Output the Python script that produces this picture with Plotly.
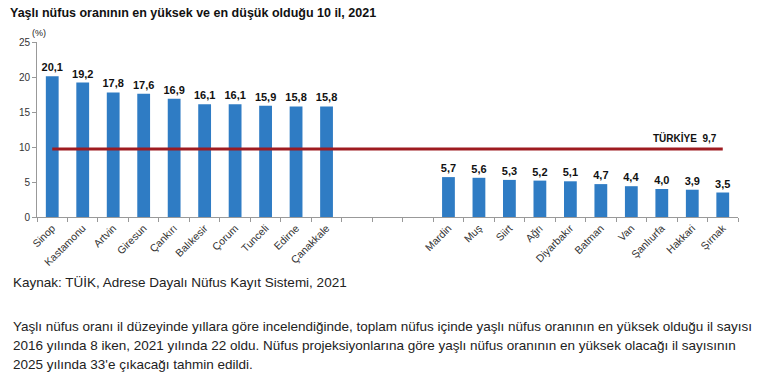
import plotly.graph_objects as go

title = "Yaşlı nüfus oranının en yüksek ve en düşük olduğu 10 il, 2021"
high_provinces = ["Sinop", "Kastamonu", "Artvin", "Giresun", "Çankırı", "Balıkesir",
                  "Çorum", "Tunceli", "Edirne", "Çanakkale"]
high_values = [20.1, 19.2, 17.8, 17.6, 16.9, 16.1, 16.1, 15.9, 15.8, 15.8]
low_provinces = ["Mardin", "Muş", "Siirt", "Ağrı", "Diyarbakır", "Batman", "Van",
                 "Şanlıurfa", "Hakkari", "Şırnak"]
low_values = [5.7, 5.6, 5.3, 5.2, 5.1, 4.7, 4.4, 4.0, 3.9, 3.5]
gap_labels = [" ", "  ", "   "]
turkiye_value = 9.7
y_ticks = [0, 5, 10, 15, 20, 25]

source_text = "Kaynak: TÜİK, Adrese Dayalı Nüfus Kayıt Sistemi, 2021"
paragraph_lines = [
    "Yaşlı nüfus oranı il düzeyinde yıllara göre incelendiğinde, toplam nüfus içinde yaşlı nüfus oranının en yüksek olduğu il sayısı",
    "2016 yılında 8 iken, 2021 yılında 22 oldu. Nüfus projeksiyonlarına göre yaşlı nüfus oranının en yüksek olacağı il sayısının",
    "2025 yılında 33'e çıkacağı tahmin edildi.",
]

def fmt(v):
    return f"{v:.1f}".replace(".", ",")

cats = high_provinces + gap_labels + low_provinces
vals = high_values + [None] * len(gap_labels) + low_values
texts = [fmt(v) if v is not None else "" for v in vals]

FONT = "Liberation Sans, Arial, sans-serif"
W, H = 770, 381
L, R, T, B = 37, 32, 42, 164
plot_h = H - T - B

def py(px):
    return (H - B - px) / plot_h

def pxx(px):
    return (px - L) / (W - L - R)

fig = go.Figure()
fig.add_trace(go.Bar(
    x=cats, y=vals, text=texts, textposition="outside",
    textfont=dict(family=FONT, size=11, color="#111"),
    texttemplate="<b>%{text}</b>", constraintext="none",
    marker=dict(color="#2F7CC4", line=dict(width=0)),
    width=0.42, cliponaxis=False, hoverinfo="skip",
))
fig.add_trace(go.Scatter(
    x=[high_provinces[0], low_provinces[-1]], y=[turkiye_value, turkiye_value],
    mode="lines", line=dict(color="#9E1B20", width=3), hoverinfo="skip",
))

fig.add_annotation(
    x=low_provinces[-1], y=turkiye_value, xref="x", yref="y",
    text=f"<b>TÜRKİYE  {fmt(turkiye_value)}</b>", showarrow=False,
    xanchor="right", yanchor="bottom", xshift=-4, yshift=3,
    font=dict(family=FONT, size=10, color="#111"),
)
fig.add_annotation(
    x=pxx(30), y=py(33), xref="paper", yref="paper", text="(%)", showarrow=False,
    xanchor="left", yanchor="middle", font=dict(family=FONT, size=9, color="#222"),
)
fig.add_annotation(
    x=pxx(8), y=py(13), xref="paper", yref="paper", text=f"<b>{title}</b>",
    showarrow=False, xanchor="left", yanchor="middle",
    font=dict(family=FONT, size=12.5, color="#111"),
)
fig.add_annotation(
    x=pxx(11), y=py(282), xref="paper", yref="paper", text=source_text,
    showarrow=False, xanchor="left", yanchor="middle",
    font=dict(family=FONT, size=13.5, color="#222"),
)
for i, line in enumerate(paragraph_lines):
    fig.add_annotation(
        x=pxx(11), y=py(326 + 19 * i), xref="paper", yref="paper", text=line,
        showarrow=False, xanchor="left", yanchor="middle",
        font=dict(family=FONT, size=13.5, color="#222"),
    )

fig.update_layout(
    width=W, height=H, margin=dict(l=L, r=R, t=T, b=B),
    paper_bgcolor="white", plot_bgcolor="white", showlegend=False,
)
fig.update_xaxes(
    type="category", categoryorder="array", categoryarray=cats,
    range=[-0.5, len(cats) - 0.5], tickangle=-45, tickson="boundaries",
    ticks="outside", ticklen=4, tickcolor="#999", showline=True,
    linecolor="#999", linewidth=1, showgrid=False,
    tickfont=dict(family=FONT, size=10.5, color="#333"), fixedrange=True,
)
fig.update_yaxes(
    range=[0, 25], tickvals=y_ticks, ticks="outside", ticklen=4, tickcolor="#999",
    showline=True, linecolor="#999", linewidth=1, showgrid=False, zeroline=False,
    tickfont=dict(family=FONT, size=10, color="#333"), fixedrange=True,
)

fig.write_html("out.html")
